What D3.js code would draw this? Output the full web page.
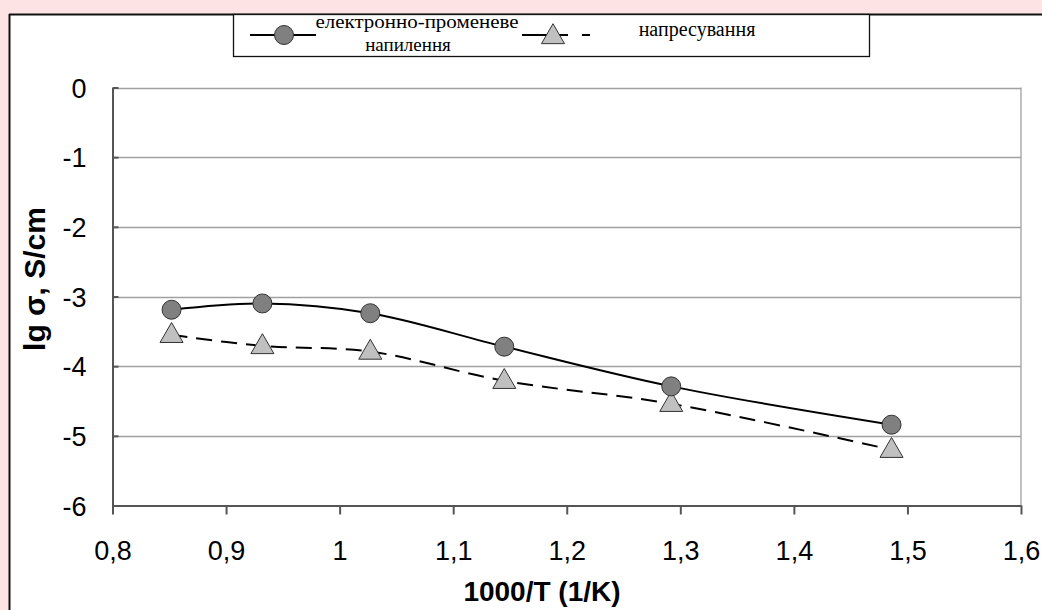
<!DOCTYPE html>
<html><head><meta charset="utf-8">
<script src="https://cdn.jsdelivr.net/npm/d3@7/dist/d3.min.js"></script>
<style>body{margin:0;background:#fff;}svg{display:block;}</style>
</head><body>
<svg id="c" width="1042" height="610"></svg>
<script>
const xValues = [0.852, 0.932, 1.027, 1.145, 1.292, 1.486];
const seriesEbeam = [-3.19, -3.10, -3.24, -3.72, -4.29, -4.84];
const seriesPress = [-3.55, -3.71, -3.79, -4.21, -4.54, -5.20];
const seriesNames = ["електронно-променеве напилення", "напресування"];
const xTicks = [0.8, 0.9, 1.0, 1.1, 1.2, 1.3, 1.4, 1.5, 1.6];
const yTicks = [0, -1, -2, -3, -4, -5, -6];

const svg = d3.select("#c");
// page frame
svg.append("rect").attr("x",0).attr("y",0).attr("width",1042).attr("height",610).attr("fill","#fde3e3");
svg.append("rect").attr("x",9).attr("y",14).attr("width",1040).attr("height",600).attr("fill","#fff");
svg.append("line").attr("x1",9).attr("x2",1042).attr("y1",14.5).attr("y2",14.5).attr("stroke","#111").attr("stroke-width",2);
svg.append("line").attr("x1",9.5).attr("x2",9.5).attr("y1",14).attr("y2",610).attr("stroke","#111").attr("stroke-width",2);

const L = 112.5, R = 1021, T = 87.5, B = 505.5;
const x = d3.scaleLinear().domain([0.8,1.6]).range([L,R]);
const y = d3.scaleLinear().domain([-6,0]).range([B,T]);
const fmt = d => String(+d.toFixed(1)).replace(".", ",");
const SANS = "Liberation Sans, Arial, sans-serif";
const SERIF = "Liberation Serif, Times New Roman, serif";

// gridlines
svg.append("g").selectAll("line").data(yTicks.filter(d=>d>-6)).join("line")
  .attr("x1",L).attr("x2",R).attr("y1",d=>Math.round(y(d))+0.5).attr("y2",d=>Math.round(y(d))+0.5)
  .attr("stroke","#a0a0a0").attr("stroke-width",1.3);
// right border of plot
svg.append("line").attr("x1",R).attr("x2",R).attr("y1",T).attr("y2",B).attr("stroke","#a0a0a0").attr("stroke-width",1.3);

// axes
const xAxis = svg.append("g").attr("transform",`translate(0,${B})`)
  .call(d3.axisBottom(x).tickValues(xTicks).tickFormat(fmt).tickSize(9).tickSizeOuter(0));
const yAxis = svg.append("g").attr("transform",`translate(${L},0)`)
  .call(d3.axisLeft(y).tickValues(yTicks).tickFormat(d=>d3.format("d")(d).replace("−","-")).tickSize(-6).tickSizeOuter(0));
[xAxis,yAxis].forEach(g=>{
  g.select(".domain").attr("stroke","#555").attr("stroke-width",2);
  g.selectAll(".tick line").attr("stroke","#555").attr("stroke-width",2);
  g.selectAll("text").attr("font-family",SANS).attr("font-size",27).attr("fill","#000");
});
xAxis.selectAll("text").attr("y",54).attr("dy",0);
yAxis.selectAll("text").attr("x",-26).attr("dy","0.36em");

// axis titles
svg.append("text").attr("x",542).attr("y",601).attr("text-anchor","middle")
  .attr("font-family",SANS).attr("font-weight","bold").attr("font-size",28).text("1000/T (1/K)");
svg.append("text").attr("transform","translate(45,279) rotate(-90)").attr("text-anchor","middle")
  .attr("font-family",SANS).attr("font-weight","bold").attr("font-size",30).text("lg σ, S/cm");

// lines
const dataE = xValues.map((v,i)=>[v,seriesEbeam[i]]);
const dataP = xValues.map((v,i)=>[v,seriesPress[i]]);
const line = d3.line().x(d=>x(d[0])).y(d=>y(d[1])).curve(d3.curveCatmullRom.alpha(0.5));
svg.append("path").attr("d",line(dataE)).attr("fill","none").attr("stroke","#000").attr("stroke-width",2);
svg.append("path").attr("d",line(dataP)).attr("fill","none").attr("stroke","#000").attr("stroke-width",2).attr("stroke-dasharray","16,9");

// markers
const tri = d3.symbol().type(d3.symbolTriangle).size(230);
svg.append("g").selectAll("path").data(dataP).join("path")
  .attr("d",tri).attr("transform",d=>`translate(${x(d[0])},${y(d[1])+1})`)
  .attr("fill","#c0c0c0").attr("stroke","#333").attr("stroke-width",1);
svg.append("g").selectAll("circle").data(dataE).join("circle")
  .attr("cx",d=>x(d[0])).attr("cy",d=>y(d[1])).attr("r",9.5)
  .attr("fill","#808080").attr("stroke","#333").attr("stroke-width",1);

// legend
const lg = svg.append("g");
lg.append("rect").attr("x",233.5).attr("y",14.5).attr("width",636).attr("height",42).attr("fill","#fff").attr("stroke","#111").attr("stroke-width",1.3);
lg.append("line").attr("x1",250).attr("x2",316).attr("y1",35).attr("y2",35).attr("stroke","#000").attr("stroke-width",2);
lg.append("circle").attr("cx",284).attr("cy",35).attr("r",9.5).attr("fill","#808080").attr("stroke","#333");
lg.append("line").attr("x1",522).attr("x2",590).attr("y1",35).attr("y2",35).attr("stroke","#000").attr("stroke-width",2).attr("stroke-dasharray","46,14");
lg.append("path").attr("d",tri).attr("transform","translate(553,37)").attr("fill","#c0c0c0").attr("stroke","#333");
const words = seriesNames[0].split(" ");
lg.append("text").attr("x",417).attr("y",28).attr("text-anchor","middle")
  .attr("font-family",SERIF).attr("font-size",19)
  .attr("textLength",203).attr("lengthAdjust","spacingAndGlyphs").text(words[0]);
lg.append("text").attr("x",408).attr("y",51).attr("text-anchor","middle")
  .attr("font-family",SERIF).attr("font-size",19).text(words[1]);
lg.append("text").attr("x",697).attr("y",36).attr("text-anchor","middle")
  .attr("font-family",SERIF).attr("font-size",20).text(seriesNames[1]);
</script>
</body></html>
